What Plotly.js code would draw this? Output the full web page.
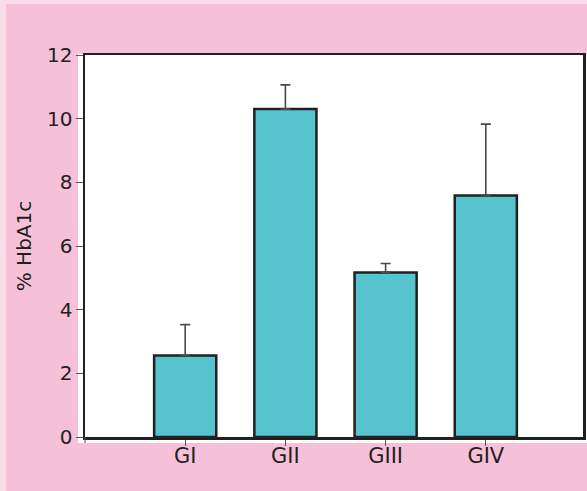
<!DOCTYPE html>
<html>
<head>
<meta charset="utf-8">
<script src="https://cdn.plot.ly/plotly-3.0.1.min.js"></script>
<style>
  html, body { margin: 0; padding: 0; background: #f6c1d8; }
  #chart { width: 587px; height: 491px; }
</style>
</head>
<body>
<div id="chart"></div>
<script>
// HbA1c by group: mean and upper limit of the error bar
const groups = ['GI', 'GII', 'GIII', 'GIV'];
const hba1c = [2.56, 10.3, 5.17, 7.59];
const sd = [0.97, 0.76, 0.28, 2.24];
const yTicks = [0, 2, 4, 6, 8, 10, 12];

const ink = '#231f20';
const face = '"DejaVu Sans", sans-serif';

const trace = {
  type: 'bar',
  x: groups,
  y: hba1c,
  width: 0.62,
  marker: { color: '#55c4cf', line: { color: ink, width: 2.5 } },
  error_y: {
    type: 'data',
    symmetric: false,
    array: sd,
    arrayminus: sd.map(() => 0),
    color: '#4a4a4a',
    thickness: 1.6,
    width: 5
  },
  hoverinfo: 'skip'
};

const layout = {
  width: 587,
  height: 491,
  margin: { l: 85, r: 4, t: 55, b: 54 },
  paper_bgcolor: '#f6c1d8',
  plot_bgcolor: '#ffffff',
  showlegend: false,
  font: { family: face, color: ink },
  xaxis: {
    type: 'category',
    range: [-1, 3.97],
    showline: true,
    mirror: true,
    linecolor: ink,
    linewidth: 2.5,
    ticks: 'outside',
    ticklen: 6,
    tickwidth: 1,
    tickcolor: '#555555',
    ticklabelstandoff: -8,
    showgrid: false,
    zeroline: false,
    tickfont: { family: face, size: 21, color: ink }
  },
  yaxis: {
    range: [0, 12],
    tickvals: yTicks,
    ticktext: yTicks.map(String),
    showline: true,
    mirror: true,
    linecolor: ink,
    linewidth: 2.5,
    ticks: 'outside',
    ticklen: 7,
    tickwidth: 1,
    tickcolor: '#555555',
    ticklabelstandoff: -1,
    showgrid: false,
    zeroline: false,
    tickfont: { family: face, size: 20, color: ink },
    title: { text: '% HbA1c', font: { family: face, size: 20, color: ink }, standoff: 10 }
  },
  shapes: [
    // lighter border strips along the left and top edges
    { type: 'rect', xref: 'paper', yref: 'paper', layer: 'below',
      x0: -85 / 498, x1: -79 / 498, y0: -54 / 382, y1: 437 / 382,
      fillcolor: '#fbdbe8', line: { width: 0 } },
    { type: 'rect', xref: 'paper', yref: 'paper', layer: 'below',
      x0: -85 / 498, x1: 502 / 498, y0: 433 / 382, y1: 437 / 382,
      fillcolor: '#fbdbe8', line: { width: 0 } },
    // white panel behind the plot frame and its ticks
    { type: 'rect', xref: 'paper', yref: 'paper', layer: 'below',
      x0: -7 / 498, x1: 502 / 498, y0: -6 / 382, y1: 1 + 1 / 382,
      fillcolor: '#ffffff', line: { width: 0 } },
    // small tick under the lower-left corner
    { type: 'line', xref: 'paper', yref: 'paper',
      x0: 0, x1: 0, y0: 0, y1: -6 / 382,
      line: { color: '#555555', width: 1 } }
  ]
};

Plotly.newPlot('chart', [trace], layout, { displayModeBar: false, staticPlot: true });
</script>
</body>
</html>
